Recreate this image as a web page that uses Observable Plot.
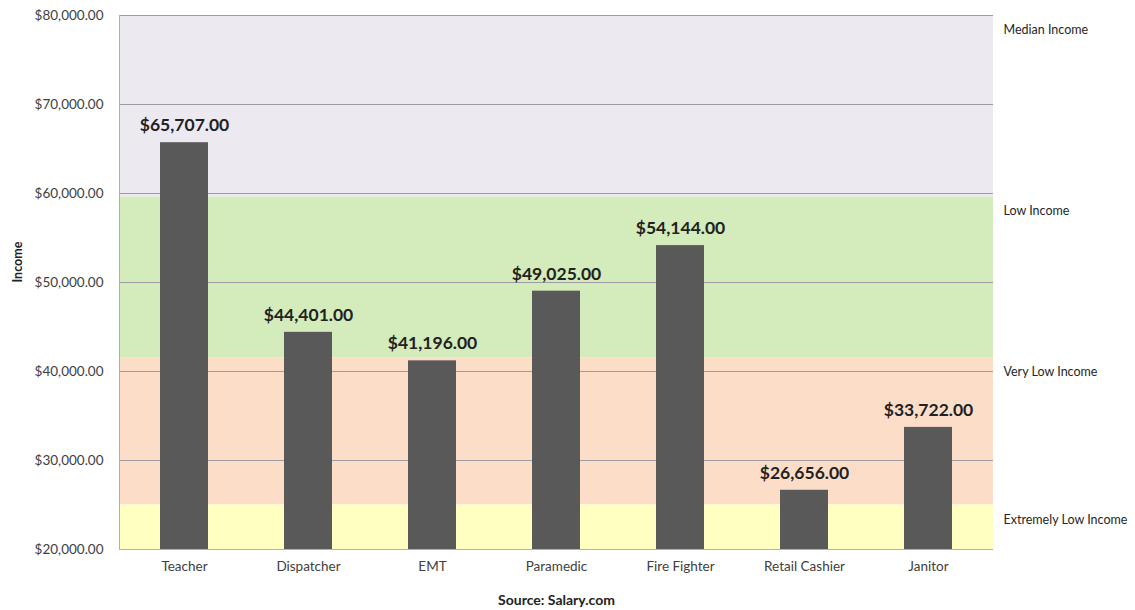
<!DOCTYPE html>
<html>
<head>
<meta charset="utf-8">
<script src="https://cdn.jsdelivr.net/npm/d3@7"></script>
<script src="https://cdn.jsdelivr.net/npm/@observablehq/plot@0.6"></script>
<style>
  body { margin: 0; background: #fff; }
  #chart svg { display: block; }
</style>
</head>
<body>
<div id="chart"></div>
<script>
const jobs = ["Teacher", "Dispatcher", "EMT", "Paramedic", "Fire Fighter", "Retail Cashier", "Janitor"];
const incomes = [65707, 44401, 41196, 49025, 54144, 26656, 33722];

const bandNames = ["Median Income", "Low Income", "Very Low Income", "Extremely Low Income"];
const bandLow = [59600, 41500, 25000, 20000];
const bandHigh = [80000, 59600, 41500, 25000];
const bandColors = ["#ede9f1", "#d4ebbb", "#fcdec8", "#ffffc2"];
const bandLabelY = [78400, 58000, 40000, 23350];

const yTicks = [20000, 30000, 40000, 50000, 60000, 70000, 80000];
const yLabel = "Income";
const caption = "Source: Salary.com";

const bars = jobs.map((j, i) => ({job: j, income: incomes[i]}));
const bands = bandNames.map((n, i) => ({name: n, lo: bandLow[i], hi: bandHigh[i], color: bandColors[i], ly: bandLabelY[i]}));
const money = d3.format("$,.2f");
const FONT = "Lato, 'Open Sans', sans-serif";

const chart = Plot.plot({
  width: 1135,
  height: 610,
  marginLeft: 119,
  marginRight: 142,
  marginTop: 15,
  marginBottom: 61,
  style: {fontFamily: FONT, fontSize: "13px", color: "#404040", background: "#fff"},
  x: {domain: jobs, paddingInner: 0.61, paddingOuter: 0.305, label: null},
  y: {domain: [20000, 80000], label: null},
  marks: [
    Plot.rect(bands, {y1: "lo", y2: "hi", fill: "color"}),
    Plot.ruleY(yTicks.slice(1), {stroke: "#9e9ba3", strokeWidth: 1}),
    Plot.ruleY([20000], {stroke: "#b0b0b0"}),
    Plot.frame({anchor: "left", stroke: "#b0b0b0"}),
    Plot.barY(bars, {x: "job", y1: 20000, y2: "income", fill: "#595959"}),
    Plot.text(bars, {x: "job", y: "income", text: d => money(d.income), dy: -17, fontSize: 17.5, fontWeight: "bold", fill: "#222"}),
    Plot.text(bands, {y: "ly", text: "name", frameAnchor: "right", dx: 10, textAnchor: "start", fontSize: 12.5, fill: "#262626"}),
    Plot.axisY({ticks: yTicks, tickFormat: money, tickSize: 0, tickPadding: 16, fontSize: 13.5, label: null}),
    Plot.axisX({tickSize: 0, tickPadding: 12, fontSize: 13.5, label: null}),
    Plot.text([yLabel], {frameAnchor: "left", dx: -102, rotate: -90, fontWeight: "bold", fontSize: 12.5, fill: "#222"}),
    Plot.text([caption], {frameAnchor: "bottom", dy: 55, fontWeight: "bold", fontSize: 14, fill: "#222"})
  ]
});
document.getElementById("chart").appendChild(chart);
</script>
</body>
</html>
